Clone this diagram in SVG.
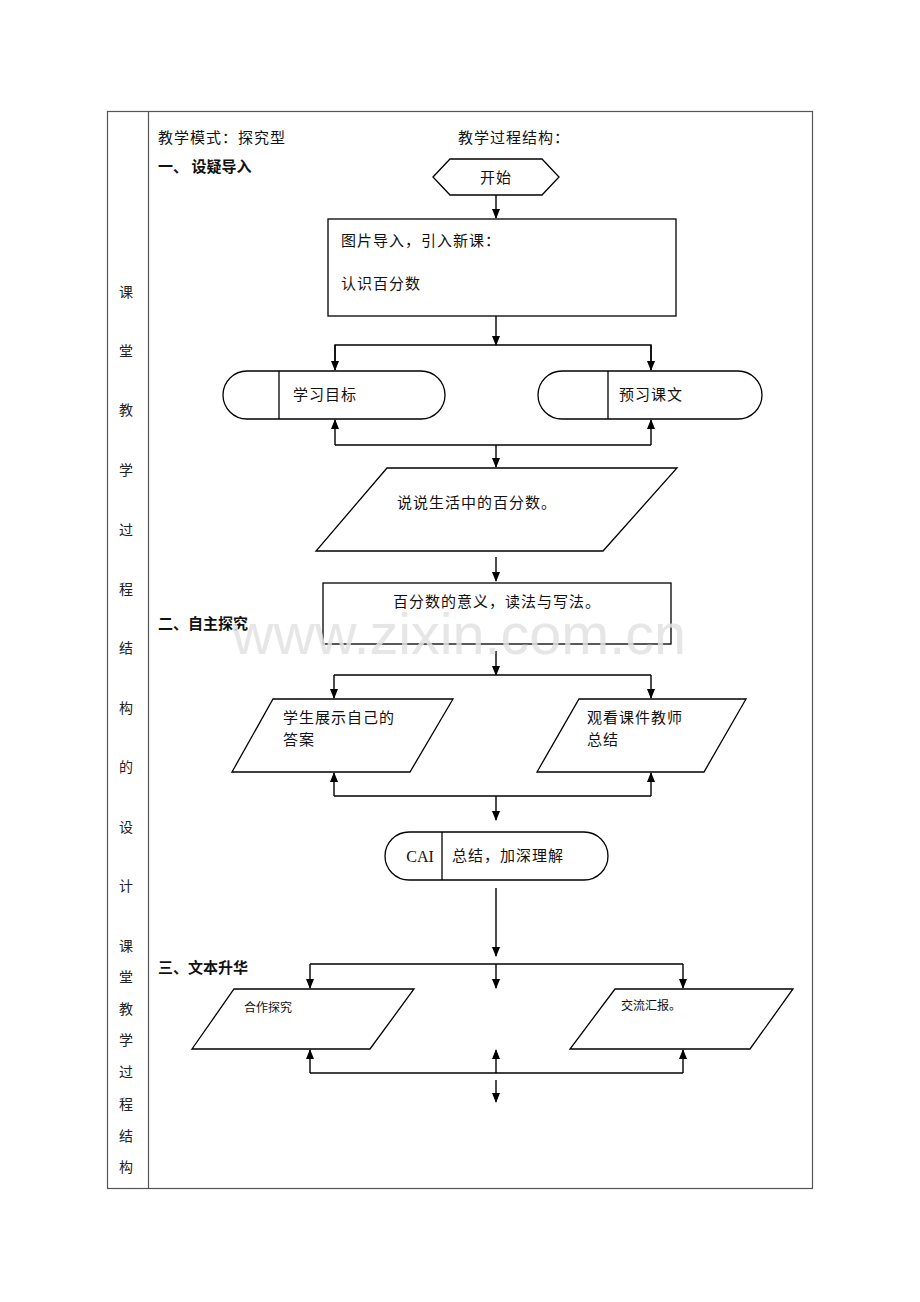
<svg xmlns="http://www.w3.org/2000/svg" width="920" height="1302" viewBox="0 0 920 1302">
<style>
.t{font-family:"Noto Sans CJK SC","Noto Sans",sans-serif;font-size:15px;letter-spacing:1px;fill:#111}
.b{font-family:"Noto Sans CJK SC","Noto Sans",sans-serif;font-size:15px;font-weight:bold;fill:#111}
.s{font-family:"Noto Sans CJK SC","Noto Sans",sans-serif;font-size:12px;fill:#111}
.c{font-family:"Noto Sans CJK SC","Noto Sans",sans-serif;font-size:14px;fill:#222;text-anchor:middle}
.n{fill:#fff;stroke:#000;stroke-width:1.3}
.l{fill:none;stroke:#000;stroke-width:1.4}
.wm{font-family:"Liberation Sans",Arial,sans-serif;font-size:57px;fill:#e2e2e2;fill-opacity:0.85}
</style>
<defs>
<marker id="ah" markerUnits="userSpaceOnUse" markerWidth="10" markerHeight="12" refX="9" refY="4" orient="auto">
<path d="M0,0 L10,4 L0,8 Z" fill="#000"/>
</marker>
</defs>
<rect width="920" height="1302" fill="#fff"/>
<g id="table">
<rect x="107.5" y="111.5" width="705" height="1077" fill="none" stroke="#555" stroke-width="1.2"/>
<line x1="148.5" y1="111.5" x2="148.5" y2="1188.5" stroke="#555" stroke-width="1.2"/>
</g>
<g id="side">
<text class="c" x="126" y="297">课</text>
<text class="c" x="126" y="356">堂</text>
<text class="c" x="126" y="415">教</text>
<text class="c" x="126" y="475">学</text>
<text class="c" x="126" y="535">过</text>
<text class="c" x="126" y="594">程</text>
<text class="c" x="126" y="653">结</text>
<text class="c" x="126" y="713">构</text>
<text class="c" x="126" y="772">的</text>
<text class="c" x="126" y="832">设</text>
<text class="c" x="126" y="891">计</text>
<text class="c" x="126" y="951">课</text>
<text class="c" x="126" y="982">堂</text>
<text class="c" x="126" y="1014">教</text>
<text class="c" x="126" y="1045">学</text>
<text class="c" x="126" y="1077">过</text>
<text class="c" x="126" y="1109">程</text>
<text class="c" x="126" y="1141">结</text>
<text class="c" x="126" y="1172">构</text>
</g>
<g id="headers">
<text class="t" x="158" y="143">教学模式：探究型</text>
<text class="t" x="458" y="143">教学过程结构：</text>
<text class="b" x="158" y="172">一、 设疑导入</text>
<text class="b" x="158" y="629">二、自主探究</text>
<text class="b" x="158" y="973">三、文本升华</text>
</g>
<g id="connectors">
<line class="l" x1="496" y1="195" x2="496" y2="218" marker-end="url(#ah)"/>
<line class="l" x1="496" y1="316" x2="496" y2="345" marker-end="url(#ah)"/>
<polyline class="l" points="335,370 335,345 651,345 651,370"/>
<line class="l" x1="335" y1="345" x2="335" y2="370" marker-end="url(#ah)"/>
<line class="l" x1="651" y1="345" x2="651" y2="370" marker-end="url(#ah)"/>
<polyline class="l" points="335,445 651,445"/>
<line class="l" x1="335" y1="445" x2="335" y2="420" marker-end="url(#ah)"/>
<line class="l" x1="651" y1="445" x2="651" y2="420" marker-end="url(#ah)"/>
<line class="l" x1="496" y1="445" x2="496" y2="467" marker-end="url(#ah)"/>
<line class="l" x1="496" y1="557" x2="496" y2="581" marker-end="url(#ah)"/>
<line class="l" x1="496" y1="651" x2="496" y2="675" marker-end="url(#ah)"/>
<polyline class="l" points="334,675 651,675"/>
<line class="l" x1="334" y1="675" x2="334" y2="698" marker-end="url(#ah)"/>
<line class="l" x1="651" y1="675" x2="651" y2="698" marker-end="url(#ah)"/>
<polyline class="l" points="334,796 651,796"/>
<line class="l" x1="334" y1="796" x2="334" y2="773" marker-end="url(#ah)"/>
<line class="l" x1="651" y1="796" x2="651" y2="773" marker-end="url(#ah)"/>
<line class="l" x1="496" y1="796" x2="496" y2="820" marker-end="url(#ah)"/>
<line class="l" x1="496" y1="888" x2="496" y2="956" marker-end="url(#ah)"/>
<polyline class="l" points="310,964 683,964"/>
<line class="l" x1="310" y1="964" x2="310" y2="988" marker-end="url(#ah)"/>
<line class="l" x1="496" y1="964" x2="496" y2="988" marker-end="url(#ah)"/>
<line class="l" x1="683" y1="964" x2="683" y2="988" marker-end="url(#ah)"/>
<polyline class="l" points="310,1073 683,1073"/>
<line class="l" x1="310" y1="1073" x2="310" y2="1050" marker-end="url(#ah)"/>
<line class="l" x1="496" y1="1073" x2="496" y2="1050" marker-end="url(#ah)"/>
<line class="l" x1="683" y1="1073" x2="683" y2="1050" marker-end="url(#ah)"/>
<line class="l" x1="496" y1="1080" x2="496" y2="1102" marker-end="url(#ah)"/>
</g>
<g id="start">
<polygon class="n" points="433,177 450,159 542,159 559,177 542,195 450,195"/>
<text class="t" x="496" y="183" text-anchor="middle">开始</text>
</g>
<g id="intro">
<rect class="n" x="328" y="219" width="348" height="97"/>
<text class="t" x="341" y="246">图片导入，引入新课：</text>
<text class="t" x="341" y="289">认识百分数</text>
</g>
<g id="goal">
<rect class="n" x="223" y="371" width="222" height="48" rx="24" ry="24"/>
<line class="n" x1="279" y1="371" x2="279" y2="419"/>
<text class="t" x="293" y="400">学习目标</text>
</g>
<g id="preview">
<rect class="n" x="538" y="371" width="224" height="48" rx="24" ry="24"/>
<line class="n" x1="608" y1="371" x2="608" y2="419"/>
<text class="t" x="619" y="400">预习课文</text>
</g>
<g id="talk">
<polygon class="n" points="387,468 677,468 603,551 316,551"/>
<text class="t" x="397" y="508">说说生活中的百分数。</text>
</g>
<g id="meaning">
<rect class="n" x="323" y="583" width="348" height="61"/>
<text class="t" x="497" y="607" text-anchor="middle">百分数的意义，读法与写法。</text>
</g>
<g id="show">
<polygon class="n" points="273,699 453,699 410,772 232,772"/>
<text class="t" x="283" y="723" letter-spacing="1.5">学生展示自己的</text>
<text class="t" x="283" y="745" letter-spacing="1.5">答案</text>
</g>
<g id="watch">
<polygon class="n" points="579,699 746,699 704,772 537,772"/>
<text class="t" x="587" y="723" letter-spacing="3.5">观看课件教师</text>
<text class="t" x="587" y="745">总结</text>
</g>
<g id="cai">
<rect class="n" x="385" y="832" width="223" height="48" rx="24" ry="24"/>
<line class="n" x1="442" y1="832" x2="442" y2="880"/>
<text x="420" y="862" text-anchor="middle" style="font-family:'Liberation Serif',serif;font-size:16px;fill:#111">CAI</text>
<text class="t" x="452" y="861">总结，加深理解</text>
</g>
<g id="coop">
<polygon class="n" points="234,989 414,989 370,1049 192,1049"/>
<text class="s" x="244" y="1012">合作探究</text>
</g>
<g id="report">
<polygon class="n" points="615,989 793,989 750,1049 570,1049"/>
<text class="s" x="621" y="1010">交流汇报。</text>
</g>
<text class="wm" x="232" y="654" textLength="454" lengthAdjust="spacingAndGlyphs">www.zixin.com.cn</text>
</svg>
